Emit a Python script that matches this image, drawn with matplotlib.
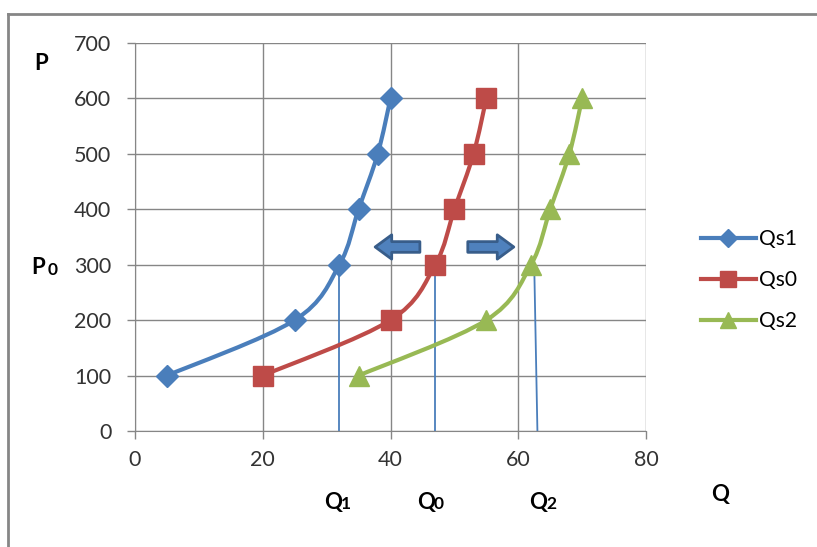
import numpy as np
import matplotlib
matplotlib.use("Agg")
import matplotlib.pyplot as plt
from matplotlib.path import Path
from matplotlib.patches import PathPatch
from matplotlib.lines import Line2D

plt.rcParams.update({
    "font.family": ["Lato", "DejaVu Sans"],
    "font.size": 14,
})

# data
price = [100, 200, 300, 400, 500, 600]
qs1 = [5, 25, 32, 35, 38, 40]
qs0 = [20, 40, 47, 50, 53, 55]
qs2 = [35, 55, 62, 65, 68, 70]
series_names = ["Qs1", "Qs0", "Qs2"]
series_colors = ["#4a7ebb", "#be4b48", "#98b954"]
series_markers = ["D", "s", "^"]
marker_sizes = [11, 14, 14]

# drop lines from the equilibrium price down to the quantity axis
drop_top = [(32, 300), (47, 300), (62.5, 300)]
drop_bottom = [32, 47, 63]

x_ticks = [0, 20, 40, 60, 80]
y_ticks = [0, 100, 200, 300, 400, 500, 600, 700]


def smooth_path(xs, ys):
    """Excel-like smoothed line as cubic bezier (Catmull-Rom)."""
    pts = np.column_stack([xs, ys]).astype(float)
    n = len(pts)
    verts = [pts[0]]
    codes = [Path.MOVETO]
    for i in range(n - 1):
        p0 = pts[i - 1] if i > 0 else pts[i]
        p1, p2 = pts[i], pts[i + 1]
        p3 = pts[i + 2] if i + 2 < n else pts[i + 1]
        c1 = p1 + (p2 - p0) / 6
        c2 = p2 - (p3 - p1) / 6
        verts += [c1, c2, p2]
        codes += [Path.CURVE4] * 3
    return Path(verts, codes)


fig = plt.figure(figsize=(8.17, 5.47), dpi=100)
ax = fig.add_axes([135 / 817, 1 - 431 / 547, 511 / 817, 388 / 547])

for xs, col, mk, ms, name in zip([qs1, qs0, qs2], series_colors, series_markers,
                                  marker_sizes, series_names):
    ax.add_patch(PathPatch(smooth_path(xs, price), fc="none", ec=col, lw=3,
                           capstyle="round", joinstyle="round", zorder=3))
    ax.plot(xs, price, linestyle="none", marker=mk, markersize=ms, color=col,
            markeredgecolor=col, zorder=4)

for (xt, yt), xb in zip(drop_top, drop_bottom):
    ax.plot([xt, xb], [yt, 0], color="#4a7ebb", lw=1.3, zorder=2)

# shift arrows
arrow_kw = dict(arrowstyle="simple,head_length=0.85,head_width=1.25,tail_width=0.55",
                fc="#4f81bd", ec="#385d8a", lw=2, mutation_scale=14,
                shrinkA=0, shrinkB=0)
ax.annotate("", xy=(37.6, 332), xytext=(44.6, 332), arrowprops=arrow_kw, zorder=5)
ax.annotate("", xy=(59.3, 332), xytext=(52.1, 332), arrowprops=arrow_kw, zorder=5)

ax.set_xlim(0, 80)
ax.set_ylim(0, 700)
ax.set_xticks(x_ticks)
ax.set_yticks(y_ticks)
ax.grid(True, color="#868686", lw=1)
ax.set_axisbelow(True)
for s in ["top", "right"]:
    ax.spines[s].set_visible(False)
for s in ["left", "bottom"]:
    ax.spines[s].set_color("#868686")
ax.tick_params(axis="both", colors="#868686", labelcolor="#333333", labelsize=15.5,
               length=6, width=1)
ax.tick_params(axis="y", pad=11)
ax.tick_params(axis="x", pad=8)

# legend
handles = [Line2D([0], [0], color=c, lw=3, marker=m, markersize=s * 0.85)
           for c, m, s in zip(series_colors, series_markers, marker_sizes)]
fig.legend(handles, series_names, loc="upper left", bbox_to_anchor=(693 / 817, 1 - 221 / 547),
           frameon=False, fontsize=15, handlelength=2.6, handletextpad=0.15,
           labelspacing=1.0, borderaxespad=0)


def sub_label(x, y, main, sub):
    fig.text(x / 817, 1 - y / 547, main, fontsize=16, fontweight="bold",
             ha="left", va="center")
    fig.text((x + 17) / 817, 1 - (y + 2) / 547, sub, fontsize=12.5,
             fontweight="bold", ha="left", va="center")


sub_label(324, 502, "Q", "1")
sub_label(417, 502, "Q", "0")
sub_label(529, 502, "Q", "2")
sub_label(31, 268, "P", "0")
fig.text(711 / 817, 1 - 495 / 547, "Q", fontsize=16, fontweight="bold", va="center")
fig.text(34 / 817, 1 - 64 / 547, "P", fontsize=16, fontweight="bold", va="center")

# outer chart border
fig.add_artist(Line2D([7.5 / 817, 1], [1 - 13.5 / 547] * 2, color="#868686", lw=2))
fig.add_artist(Line2D([7.5 / 817] * 2, [0, 1 - 13.5 / 547], color="#868686", lw=2))

fig.savefig("out.png", dpi=100)
